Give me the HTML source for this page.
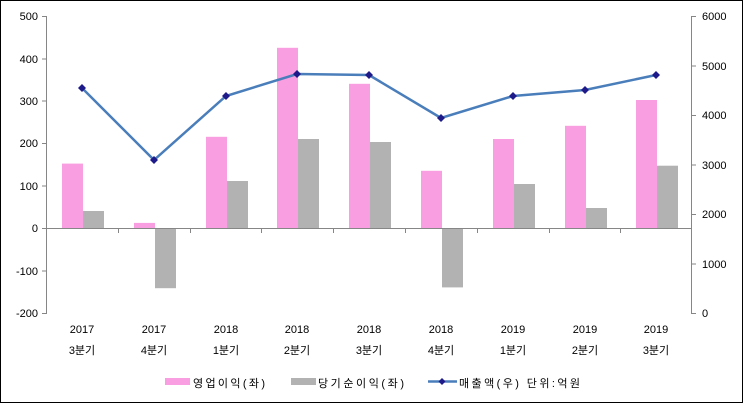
<!DOCTYPE html><html><head><style>body{margin:0;background:#fff}svg{display:block}text{font-family:"Liberation Sans","Noto Sans CJK KR",sans-serif;font-size:11px;fill:#000}</style></head><body>
<svg width="743" height="403" xmlns="http://www.w3.org/2000/svg">
<rect x="0.5" y="0.5" width="742" height="402" fill="#fff" stroke="#000"/>
<g fill="#f99ee0">
<rect x="62" y="163.6" width="21" height="64.4"/><rect x="134" y="222.9" width="21" height="5.1"/><rect x="206" y="136.8" width="21" height="91.2"/><rect x="277" y="47.8" width="21" height="180.2"/><rect x="349" y="83.8" width="21" height="144.2"/><rect x="421" y="170.8" width="21" height="57.2"/><rect x="493" y="139" width="21" height="89"/><rect x="565" y="125.8" width="21" height="102.2"/><rect x="636" y="100" width="21" height="128"/>
</g>
<g fill="#b2b2b2">
<rect x="83" y="211" width="21" height="17"/><rect x="155" y="228" width="21" height="60.2"/><rect x="227" y="181" width="21" height="47"/><rect x="298" y="139" width="21" height="89"/><rect x="370" y="142" width="21" height="86"/><rect x="442" y="228" width="21" height="59.4"/><rect x="514" y="184" width="21" height="44"/><rect x="586" y="208" width="21" height="20"/><rect x="657" y="165.7" width="21" height="62.3"/>
</g>
<g stroke="#868686" fill="none">
<path d="M46.5 16V313M42 16.5h5M42 59h5M42 101h5M42 143.5h5M42 186h5M42 228.5h5M42 271h5M42 313.5h5"/>
<path d="M691.5 16V313M691 16.5h5M691 66h5M691 115.5h5M691 165h5M691 214.5h5M691 264h5M691 313.5h5"/>
<path d="M46 228.5h646M118.5 228v5M190.5 228v5M261.5 228v5M333.5 228v5M405.5 228v5M477.5 228v5M549.5 228v5M620.5 228v5"/>
</g>
<g text-anchor="end">
<text x="38" y="20">500</text><text x="38" y="63">400</text><text x="38" y="105">300</text><text x="38" y="147">200</text><text x="38" y="190">100</text><text x="38" y="232">0</text><text x="38" y="275">-100</text><text x="38" y="317">-200</text>
</g>
<g>
<text x="702" y="20">6000</text><text x="702" y="70">5000</text><text x="702" y="119">4000</text><text x="702" y="169">3000</text><text x="702" y="218">2000</text><text x="702" y="268">1000</text><text x="702" y="317">0</text>
</g>
<g text-anchor="middle">
<text x="82" y="333">2017</text><text x="154" y="333">2017</text><text x="226" y="333">2018</text><text x="297" y="333">2018</text><text x="369" y="333">2018</text><text x="441" y="333">2018</text><text x="513" y="333">2019</text><text x="585" y="333">2019</text><text x="656" y="333">2019</text>
<text x="82" y="354" font-size="13">3분기</text><text x="154" y="354" font-size="13">4분기</text><text x="226" y="354" font-size="13">1분기</text><text x="297" y="354" font-size="13">2분기</text><text x="369" y="354" font-size="13">3분기</text><text x="441" y="354" font-size="13">4분기</text><text x="513" y="354" font-size="13">1분기</text><text x="585" y="354" font-size="13">2분기</text><text x="656" y="354" font-size="13">3분기</text>
</g>
<polyline points="82,88 154,160 226,96 297,74 369,75 441,118 513,96 585,90 656,75" fill="none" stroke="#4a7ebb" stroke-width="2.5"/>
<g fill="#1f1a8a">
<path d="M82 84l4 4-4 4-4-4z"/><path d="M154 156l4 4-4 4-4-4z"/><path d="M226 92l4 4-4 4-4-4z"/><path d="M297 70l4 4-4 4-4-4z"/><path d="M369 71l4 4-4 4-4-4z"/><path d="M441 114l4 4-4 4-4-4z"/><path d="M513 92l4 4-4 4-4-4z"/><path d="M585 86l4 4-4 4-4-4z"/><path d="M656 71l4 4-4 4-4-4z"/>
</g>
<rect x="165" y="378" width="25" height="7" fill="#f99ee0"/>
<text x="193" y="387" font-size="13" textLength="72">영업이익(좌)</text>
<rect x="291" y="378" width="25" height="7" fill="#b2b2b2"/>
<text x="318" y="387" font-size="13" textLength="86">당기순이익(좌)</text>
<line x1="428" y1="381.5" x2="457" y2="381.5" stroke="#4a7ebb" stroke-width="2.5"/>
<path d="M442 378l3.5 3.5-3.5 3.5-3.5-3.5z" fill="#1f1a8a"/>
<text x="459" y="387" font-size="13" textLength="121">매출액(우)  단위:억원</text>
</svg>
</body></html>
